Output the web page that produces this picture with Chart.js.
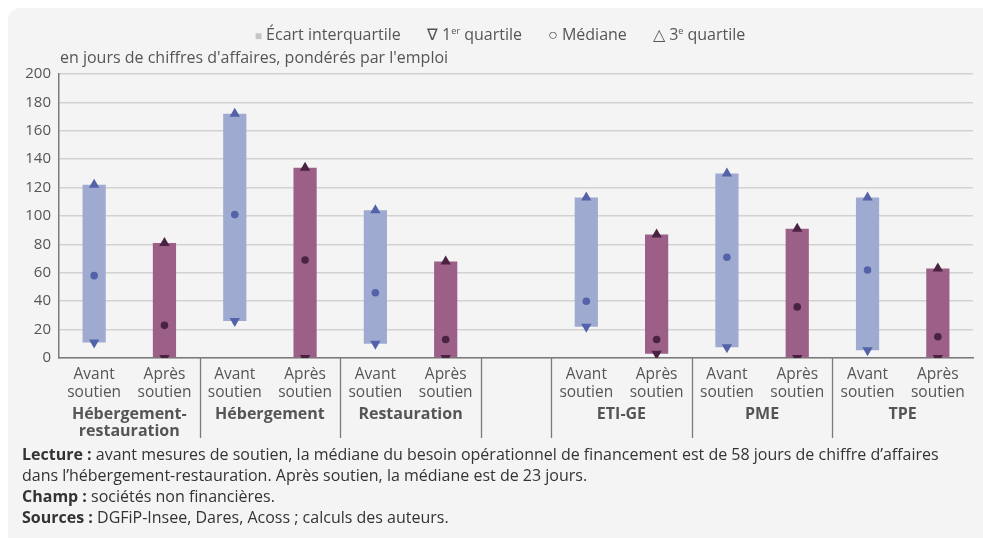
<!DOCTYPE html>
<html lang="fr">
<head>
<meta charset="utf-8">
<script src="https://cdn.jsdelivr.net/npm/chart.js@4.4.1/dist/chart.umd.min.js"></script>
<style>
  html, body { margin: 0; padding: 0; background: #fff; }
  body { width: 983px; height: 538px; position: relative; overflow: hidden; font-family: 'Open Sans', sans-serif; color: #505050; }
  #card { position: absolute; left: 8px; top: 8px; width: 990px; height: 545px; background: #f4f4f4; border-radius: 12px; }
  #chartBox { position: absolute; left: 0; top: 0; width: 983px; height: 445px; }
  #legend { position: absolute; top: 23px; left: 0; width: 1000px; text-align: center; font-size: 16px; color: #555; white-space: nowrap; }
  #legend span.item { margin: 0 11px; }
  #legend sup { font-size: 9px; }
  #ytitle { position: absolute; left: 60px; top: 46px; font-size: 16px; color: #555; }
  #notes { position: absolute; left: 22px; top: 444px; font-size: 16px; line-height: 21px; color: #333; }
  #notes b { font-weight: 700; }
</style>
</head>
<body>
<div id="card"></div>
<div id="chartBox"><canvas id="chart" width="983" height="445"></canvas></div>
<div id="legend">
  <span class="item"><span style="color:#c6c6c6;font-size:12px">&#9632;</span> Écart interquartile</span>
  <span class="item">&#8711; 1<sup>er</sup> quartile</span>
  <span class="item">&#9675; Médiane</span>
  <span class="item">&#9651; 3<sup>e</sup> quartile</span>
</div>
<div id="ytitle">en jours de chiffres d'affaires, pondérés par l'emploi</div>
<div id="notes">
  <b>Lecture :</b> avant mesures de soutien, la médiane du besoin opérationnel de financement est de 58 jours de chiffre d’affaires<br>
  dans l’hébergement-restauration. Après soutien, la médiane est de 23 jours.<br>
  <b>Champ :</b> sociétés non financières.<br>
  <b>Sources :</b> DGFiP-Insee, Dares, Acoss ; calculs des auteurs.
</div>
<script>
const phases = ['Avant soutien', 'Après soutien', 'Avant soutien', 'Après soutien', 'Avant soutien', 'Après soutien', '',
  'Avant soutien', 'Après soutien', 'Avant soutien', 'Après soutien', 'Avant soutien', 'Après soutien'];
const groups = ['Hébergement-\nrestauration', 'Hébergement', 'Restauration', '', 'ETI-GE', 'PME', 'TPE'];
const groupSlots = [[0, 1], [2, 3], [4, 5], [6, 6], [7, 8], [9, 10], [11, 12]];

const q1 =     [11, 0, 26, 0, 10, 0, null, 22, 3, 7.5, 0, 5.5, 0];
const median = [58, 23, 101, 69, 46, 13, null, 40, 13, 71, 36, 62, 15];
const q3 =     [122, 81, 172, 134, 104, 68, null, 113, 87, 130, 91, 113, 63];

const yMin = 0, yMax = 200, yStep = 20;

const barColors = phases.map(p => p.startsWith('Avant') ? '#9eaacf' : '#9c5f87');
const markColors = phases.map(p => p.startsWith('Avant') ? '#5462aa' : '#4a2343');

const ranges = q1.map((v, i) => v === null ? null : [v, q3[i]]);

// separators under the x axis + bold group names
const groupPlugin = {
  id: 'groups',
  afterDraw(chart) {
    const ctx = chart.ctx;
    const x = chart.scales.x;
    const bottom = chart.chartArea.bottom;
    const px = i => x.getPixelForValue(i);
    ctx.save();
    ctx.strokeStyle = '#7a7a7a';
    ctx.lineWidth = 1.3;
    [1, 3, 5, 6, 8, 10].forEach(i => {
      const sx = Math.round((px(i) + px(i + 1)) / 2) + 0.5;
      ctx.beginPath();
      ctx.moveTo(sx, bottom);
      ctx.lineTo(sx, bottom + 80);
      ctx.stroke();
    });
    ctx.fillStyle = '#555';
    ctx.font = 'bold 16px "Open Sans"';
    ctx.textAlign = 'center';
    ctx.textBaseline = 'alphabetic';
    groups.forEach((g, k) => {
      if (!g) return;
      const [a, b] = groupSlots[k];
      const cx = (px(a) + px(b)) / 2;
      g.split('\n').forEach((line, j) => ctx.fillText(line, cx, bottom + 61 + j * 17));
    });
    ctx.restore();
  }
};

new Chart(document.getElementById('chart'), {
  data: {
    labels: phases,
    datasets: [
      {
        type: 'bar',
        label: 'Écart interquartile',
        data: ranges,
        backgroundColor: barColors,
        borderWidth: 0,
        barPercentage: 0.33,
        categoryPercentage: 1,
        order: 2
      },
      {
        type: 'line',
        label: '1er quartile',
        data: q1,
        showLine: false,
        pointStyle: 'triangle',
        rotation: 180,
        pointRadius: 6,
        pointBackgroundColor: markColors,
        pointBorderColor: markColors,
        pointBorderWidth: 0,
        order: 1
      },
      {
        type: 'line',
        label: 'Médiane',
        data: median,
        showLine: false,
        pointStyle: 'circle',
        pointRadius: 3.8,
        pointBackgroundColor: markColors,
        pointBorderColor: markColors,
        pointBorderWidth: 0,
        order: 1
      },
      {
        type: 'line',
        label: '3e quartile',
        data: q3,
        showLine: false,
        pointStyle: 'triangle',
        pointRadius: 6,
        pointBackgroundColor: markColors,
        pointBorderColor: markColors,
        pointBorderWidth: 0,
        order: 1
      }
    ]
  },
  options: {
    responsive: false,
    animation: false,
    events: [],
    layout: { padding: { top: 74, right: 10, left: 0, bottom: 0 } },
    plugins: { legend: { display: false }, tooltip: { enabled: false }, title: { display: false } },
    scales: {
      x: {
        type: 'category',
        offset: true,
        grid: { display: false, drawTicks: false },
        border: { color: '#7a7a7a', width: 1.5 },
        ticks: {
          color: '#555',
          font: { family: 'Open Sans', size: 15.5 },
          padding: 7,
          maxRotation: 0,
          autoSkip: false,
          callback: function (v) { const l = phases[v]; return l ? l.split(' ') : ''; }
        },
        afterFit: s => { s.height = 87; }
      },
      y: {
        min: yMin,
        max: yMax,
        ticks: { stepSize: yStep, color: '#555', font: { family: 'Open Sans', size: 15 }, padding: 8 },
        grid: { color: '#d2d2d2', lineWidth: 1.5, drawTicks: false },
        border: { color: '#7a7a7a', width: 1.5 },
        afterFit: s => { s.width = 59; }
      }
    }
  },
  plugins: [groupPlugin]
});
</script>
</body>
</html>
